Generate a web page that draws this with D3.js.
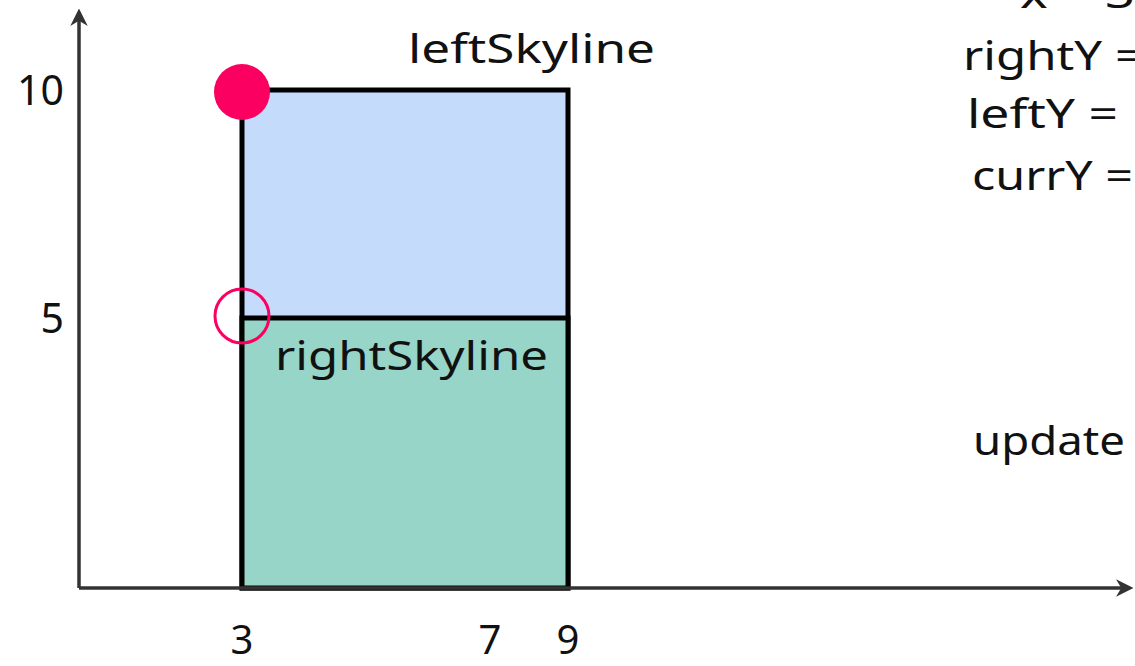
<!DOCTYPE html>
<html><head><meta charset="utf-8">
<script src="https://cdn.jsdelivr.net/npm/d3@7"></script>
<style>html,body{margin:0;padding:0;background:#fff;overflow:hidden}
text{font-family:"Comic Sans MS","Noto Sans",sans-serif;fill:#111}</style>
</head><body><svg id="c" width="1135" height="666"></svg>
<script>
// Data
const xTickValues = [3, 7, 9];
const xTickLabels = ["3", "7", "9"];
const yTickValues = [5, 10];
const yTickLabels = ["5", "10"];
const skylines = [
  {name: "leftSkyline",  x0: 3, x1: 9, height: 10},
  {name: "rightSkyline", x0: 3, x1: 9, height: 5}
];
const points = [
  {x: 3, y: 10, filled: true},
  {x: 3, y: 5, filled: false}
];
const sideLabels = ["x = 3", "rightY =", "leftY =", "currY =", "update"];

const svg = d3.select("#c");
// polylinear scales (diagram is not drawn to uniform scale)
const x = d3.scaleLinear().domain([0, 3, 7, 9, 19]).range([79, 242, 490, 568, 1130]);
const y = d3.scaleLinear().domain([0, 5, 10, 11.6]).range([588, 318, 90, 12]);

const defs = svg.append("defs");
defs.append("marker").attr("id","arr").attr("viewBox","0 0 10 10").attr("refX",8).attr("refY",5)
  .attr("markerWidth",5).attr("markerHeight",5).attr("orient","auto-start-reverse")
  .append("path").attr("d","M0,0 L10,5 L0,10 L3,5 Z").attr("fill","#333");

const colors = {leftSkyline: "#c4dbfb", rightSkyline: "#96d5c8"};

// rectangles
svg.selectAll("rect.sky").data(skylines).join("rect").attr("class","sky")
  .attr("x", d => x(d.x0)).attr("y", d => y(d.height))
  .attr("width", d => x(d.x1) - x(d.x0)).attr("height", d => y(0) - y(d.height))
  .attr("fill", d => colors[d.name]).attr("stroke", "#000").attr("stroke-width", 5);

// axes
svg.append("line").attr("x1", x(0)).attr("x2", x(0)).attr("y1", y(0)).attr("y2", y(11.6))
  .attr("stroke","#333").attr("stroke-width",3.5).attr("marker-end","url(#arr)");
svg.append("line").attr("x1", x(0)).attr("x2", x(19)).attr("y1", y(0)).attr("y2", y(0))
  .attr("stroke","#333").attr("stroke-width",3.5).attr("marker-end","url(#arr)");

// tick labels
svg.selectAll("text.xt").data(xTickValues).join("text").attr("class","xt")
  .attr("x", d => x(d)).attr("y", 654).attr("text-anchor","middle")
  .attr("font-size", 40).text((d,i) => xTickLabels[i]);
svg.selectAll("text.yt").data(yTickValues).join("text").attr("class","yt")
  .attr("x", 64).attr("y", d => y(d) + 15).attr("text-anchor","end")
  .attr("font-size", 41).text((d,i) => yTickLabels[i]);

// skyline labels
svg.append("text").attr("x", 408).attr("y", 63)
  .attr("font-size", 40).attr("textLength", 247).attr("lengthAdjust","spacingAndGlyphs").text(skylines[0].name);
svg.append("text").attr("x", 275).attr("y", 370)
  .attr("font-size", 40).attr("textLength", 273).attr("lengthAdjust","spacingAndGlyphs").text(skylines[1].name);

// points
svg.selectAll("circle.pt").data(points).join("circle").attr("class","pt")
  .attr("cx", d => x(d.x)).attr("cy", d => y(d.y) + (d.filled ? 2 : -2)).attr("r", d => d.filled ? 28 : 27)
  .attr("fill", d => d.filled ? "#fb0060" : "none")
  .attr("stroke", "#fb0060").attr("stroke-width", d => d.filled ? 0 : 3);

// side labels
const sidePos = [[1020, 8, 115], [963, 70, 180], [967, 128, 151], [972, 190, 161], [973, 455, 152]];
svg.selectAll("text.side").data(sideLabels).join("text").attr("class","side")
  .attr("x", (d,i) => sidePos[i][0]).attr("y", (d,i) => sidePos[i][1])
  .attr("textLength", (d,i) => sidePos[i][2]).attr("lengthAdjust","spacingAndGlyphs")
  .attr("font-size", 40).text(d => d);
</script></body></html>
